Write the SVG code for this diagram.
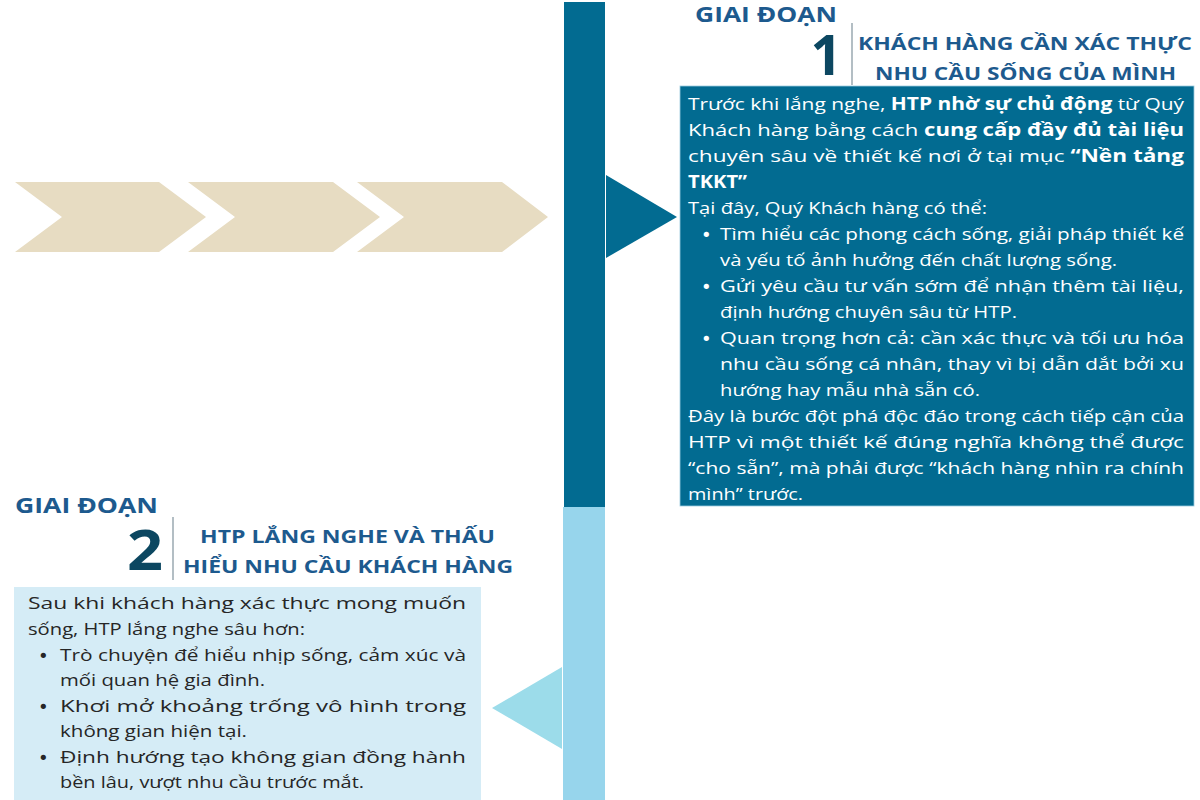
<svg xmlns="http://www.w3.org/2000/svg" width="1200" height="800" viewBox="0 0 1200 800">
<style>
.hd{font-family:"Open Sans","Noto Sans","DejaVu Sans",sans-serif;font-weight:700;fill:#1d5a8e}
.num{font-family:"Open Sans","Noto Sans","DejaVu Sans",sans-serif;font-weight:700;fill:#0c4761}
.t1{font-family:"Open Sans","Noto Sans","DejaVu Sans",sans-serif;font-size:17px;fill:#ffffff}
.t2{font-family:"Open Sans","Noto Sans","DejaVu Sans",sans-serif;font-size:17px;fill:#262626}
.bl{font-family:"DejaVu Sans",sans-serif;font-size:18px}
.b{font-weight:700}
.chev{fill:#e7dcc2}
.sep{stroke:#9aa9b0;stroke-width:1.5}
</style>
<rect width="1200" height="800" fill="#ffffff"/>

<g id="chevrons">
<polygon class="chev" points="15,182 159,182 206,217 159,252 15,252 62,217"/>
<polygon class="chev" points="188,182 333,182 380,217 333,252 188,252 235,217"/>
<polygon class="chev" points="357,182 502,182 548,217 502,252 357,252 404,217"/>
</g>

<g id="connectors">
<rect id="bar-dark" x="564" y="2" width="41" height="505" fill="#026b91"/>
<rect id="bar-light" x="563" y="507" width="42" height="293" fill="#97d5ec"/>
<polygon id="arrow-1" points="606,175 677,217 606,258" fill="#026b91"/>
<polygon id="arrow-2" points="562,667 492,708 562,749" fill="#9cdcea"/>
</g>

<g id="stage-1">
<text class="hd" x="695" y="22" font-size="21" textLength="142" lengthAdjust="spacingAndGlyphs">GIAI ĐOẠN</text>
<text class="num" x="842" y="75" font-size="55" text-anchor="end">1</text>
<line class="sep" x1="852" y1="23" x2="852" y2="85"/>
<text class="hd" x="858" y="50" font-size="18" textLength="334" lengthAdjust="spacingAndGlyphs">KHÁCH HÀNG CẦN XÁC THỰC</text>
<text class="hd" x="875" y="80" font-size="18" textLength="301" lengthAdjust="spacingAndGlyphs">NHU CẦU SỐNG CỦA MÌNH</text>
<rect x="680" y="86" width="514" height="420" fill="#026b91" stroke="#9ccbdf" stroke-width="0.8"/>
<text class="t1" x="688" y="110" textLength="496" lengthAdjust="spacingAndGlyphs">Trước khi lắng nghe, <tspan class="b">HTP nhờ sự chủ động</tspan> từ Quý</text>
<text class="t1" x="688" y="136" textLength="496" lengthAdjust="spacingAndGlyphs">Khách hàng bằng cách <tspan class="b">cung cấp đầy đủ tài liệu</tspan></text>
<text class="t1" x="688" y="162" textLength="496" lengthAdjust="spacingAndGlyphs">chuyên sâu về thiết kế nơi ở tại mục <tspan class="b">“Nền tảng</tspan></text>
<text class="t1 b" x="688" y="188" textLength="59" lengthAdjust="spacingAndGlyphs">TKKT”</text>
<text class="t1" x="688" y="214" textLength="299" lengthAdjust="spacingAndGlyphs">Tại đây, Quý Khách hàng có thể:</text>
<text class="t1 bl" x="701" y="241">•</text>
<text class="t1" x="720" y="240" textLength="464" lengthAdjust="spacingAndGlyphs">Tìm hiểu các phong cách sống, giải pháp thiết kế</text>
<text class="t1" x="720" y="266" textLength="397" lengthAdjust="spacingAndGlyphs">và yếu tố ảnh hưởng đến chất lượng sống.</text>
<text class="t1 bl" x="701" y="293">•</text>
<text class="t1" x="720" y="292" textLength="464" lengthAdjust="spacingAndGlyphs">Gửi yêu cầu tư vấn sớm để nhận thêm tài liệu,</text>
<text class="t1" x="720" y="318" textLength="297" lengthAdjust="spacingAndGlyphs">định hướng chuyên sâu từ HTP.</text>
<text class="t1 bl" x="701" y="345">•</text>
<text class="t1" x="720" y="344" textLength="464" lengthAdjust="spacingAndGlyphs">Quan trọng hơn cả: cần xác thực và tối ưu hóa</text>
<text class="t1" x="720" y="370" textLength="464" lengthAdjust="spacingAndGlyphs">nhu cầu sống cá nhân, thay vì bị dẫn dắt bởi xu</text>
<text class="t1" x="720" y="396" textLength="260" lengthAdjust="spacingAndGlyphs">hướng hay mẫu nhà sẵn có.</text>
<text class="t1" x="688" y="422" textLength="496" lengthAdjust="spacingAndGlyphs">Đây là bước đột phá độc đáo trong cách tiếp cận của</text>
<text class="t1" x="688" y="448" textLength="496" lengthAdjust="spacingAndGlyphs">HTP vì một thiết kế đúng nghĩa không thể được</text>
<text class="t1" x="688" y="474" textLength="496" lengthAdjust="spacingAndGlyphs">“cho sẵn”, mà phải được “khách hàng nhìn ra chính</text>
<text class="t1" x="688" y="500" textLength="115" lengthAdjust="spacingAndGlyphs">mình” trước.</text>
</g>

<g id="stage-2">
<text class="hd" x="15" y="513" font-size="21" textLength="143" lengthAdjust="spacingAndGlyphs">GIAI ĐOẠN</text>
<text class="num" x="127" y="570" font-size="56" textLength="36" lengthAdjust="spacingAndGlyphs">2</text>
<line class="sep" x1="173" y1="517" x2="173" y2="580"/>
<text class="hd" x="200" y="543" font-size="18" textLength="295" lengthAdjust="spacingAndGlyphs">HTP LẮNG NGHE VÀ THẤU</text>
<text class="hd" x="183" y="573" font-size="18" textLength="330" lengthAdjust="spacingAndGlyphs">HIỂU NHU CẦU KHÁCH HÀNG</text>
<rect x="14" y="587" width="467" height="213" fill="#d5ecf6"/>
<text class="t2" x="28" y="609" textLength="438" lengthAdjust="spacingAndGlyphs">Sau khi khách hàng xác thực mong muốn</text>
<text class="t2" x="28" y="635" textLength="277" lengthAdjust="spacingAndGlyphs">sống, HTP lắng nghe sâu hơn:</text>
<text class="t2 bl" x="38" y="662">•</text>
<text class="t2" x="60" y="661" textLength="406" lengthAdjust="spacingAndGlyphs">Trò chuyện để hiểu nhịp sống, cảm xúc và</text>
<text class="t2" x="60" y="686" textLength="205" lengthAdjust="spacingAndGlyphs">mối quan hệ gia đình.</text>
<text class="t2 bl" x="38" y="713">•</text>
<text class="t2" x="60" y="712" textLength="406" lengthAdjust="spacingAndGlyphs">Khơi mở khoảng trống vô hình trong</text>
<text class="t2" x="60" y="737" textLength="187" lengthAdjust="spacingAndGlyphs">không gian hiện tại.</text>
<text class="t2 bl" x="38" y="764">•</text>
<text class="t2" x="60" y="763" textLength="406" lengthAdjust="spacingAndGlyphs">Định hướng tạo không gian đồng hành</text>
<text class="t2" x="60" y="788" textLength="304" lengthAdjust="spacingAndGlyphs">bền lâu, vượt nhu cầu trước mắt.</text>
</g>
</svg>
